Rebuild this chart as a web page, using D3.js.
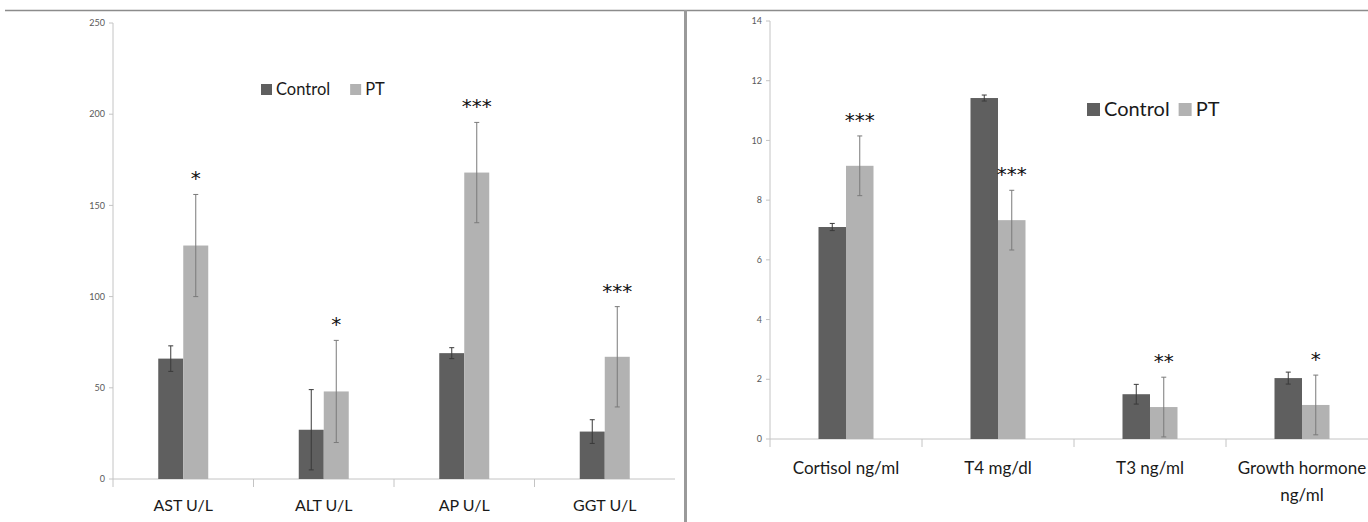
<!DOCTYPE html>
<html>
<head>
<meta charset="utf-8">
<script src="https://cdn.jsdelivr.net/npm/d3@7"></script>
<style>
  body { margin: 0; background: #fff; }
  svg { display: block; font-family: Lato, "Open Sans", sans-serif; }
</style>
</head>
<body>
<div id="chart"></div>
<script>
// left panel: liver enzymes
const liverCats = ["AST U/L", "ALT U/L", "AP U/L", "GGT U/L"];
const liverControl = [66, 27, 69, 26];
const liverControlSd = [7, 22, 3, 6.5];
const liverPT = [128, 48, 168, 67];
const liverPTSd = [28, 28, 27.5, 27.5];
const liverStars = ["*", "*", "***", "***"];
const liverTicks = [0, 50, 100, 150, 200, 250];

// right panel: hormones
const hormoneCats = ["Cortisol ng/ml", "T4 mg/dl", "T3 ng/ml", "Growth hormone ng/ml"];
const hormoneControl = [7.1, 11.42, 1.5, 2.04];
const hormoneControlSd = [0.12, 0.1, 0.33, 0.2];
const hormonePT = [9.15, 7.33, 1.07, 1.14];
const hormonePTSd = [1.0, 1.0, 1.0, 1.0];
const hormoneStars = ["***", "***", "**", "*"];
const hormoneTicks = [0, 2, 4, 6, 8, 10, 12, 14];

const seriesNames = ["Control", "PT"];
const colors = { Control: "#5f5f5f", PT: "#b2b2b2" };
const errColors = { Control: "#3a3a3a", PT: "#7a7a7a" };

const W = 1368, H = 522;
const svg = d3.select("#chart").append("svg")
    .attr("width", W)
    .attr("height", H);

// frame lines
svg.append("line")
    .attr("x1", 5).attr("x2", W).attr("y1", 10.5).attr("y2", 10.5)
    .attr("stroke", "#8c8c8c").attr("stroke-width", 1.5);
svg.append("line")
    .attr("x1", 685.5).attr("x2", 685.5).attr("y1", 10).attr("y2", H)
    .attr("stroke", "#9a9a9a").attr("stroke-width", 3);

function drawPanel(opts) {
    const g = svg.append("g");

    const x = d3.scaleBand()
        .domain(opts.cats)
        .range(opts.xRange);

    const y = d3.scaleLinear()
        .domain([0, d3.max(opts.ticks)])
        .range(opts.yRange);

    const y0 = y(0);

    // y axis
    g.append("line")
        .attr("x1", opts.xRange[0]).attr("x2", opts.xRange[0])
        .attr("y1", y(d3.max(opts.ticks))).attr("y2", y0 + 8)
        .attr("stroke", "#c4c4c4");
    g.selectAll(".ytick")
        .data(opts.ticks)
        .enter()
        .append("line")
        .attr("x1", opts.xRange[0] - 4).attr("x2", opts.xRange[0])
        .attr("y1", d => y(d)).attr("y2", d => y(d))
        .attr("stroke", "#c4c4c4");
    g.selectAll(".ylab")
        .data(opts.ticks)
        .enter()
        .append("text")
        .attr("x", opts.xRange[0] - 8)
        .attr("y", d => y(d))
        .attr("dy", "0.35em")
        .attr("text-anchor", "end")
        .attr("font-size", opts.tickSize)
        .attr("fill", "#595959")
        .text(d => d);

    // x axis
    g.append("line")
        .attr("x1", opts.xRange[0]).attr("x2", opts.xRange[1])
        .attr("y1", y0).attr("y2", y0)
        .attr("stroke", "#c4c4c4");
    g.selectAll(".xtick")
        .data(opts.cats.slice(1))
        .enter()
        .append("line")
        .attr("x1", d => x(d)).attr("x2", d => x(d))
        .attr("y1", y0).attr("y2", y0 + 8)
        .attr("stroke", "#c4c4c4");

    // bars, built from the arrays
    const rows = opts.cats.map((c, i) => ({
        cat: c,
        vals: [
            { s: "Control", v: opts.control[i], sd: opts.controlSd[i] },
            { s: "PT", v: opts.pt[i], sd: opts.ptSd[i] }
        ],
        star: opts.stars[i]
    }));

    const bw = opts.barWidth;
    const barX = (cat, k) => x(cat) + x.bandwidth() / 2 - bw + k * bw;

    rows.forEach(r => {
        r.vals.forEach((d, k) => {
            const bx = barX(r.cat, k);
            g.append("rect")
                .attr("x", bx)
                .attr("y", y(d.v))
                .attr("width", bw)
                .attr("height", y0 - y(d.v))
                .attr("fill", colors[d.s]);

            const cx = bx + bw / 2;
            const eg = g.append("g").attr("stroke", errColors[d.s]).attr("stroke-width", 1);
            eg.append("line")
                .attr("x1", cx).attr("x2", cx)
                .attr("y1", y(d.v + d.sd)).attr("y2", y(Math.max(0, d.v - d.sd)));
            [d.v + d.sd, Math.max(0, d.v - d.sd)].forEach(e => {
                eg.append("line")
                    .attr("x1", cx - 2.5).attr("x2", cx + 2.5)
                    .attr("y1", y(e)).attr("y2", y(e));
            });
        });
        // significance stars above the PT bar
        const pt = r.vals[1];
        g.append("text")
            .attr("x", barX(r.cat, 1) + bw / 2)
            .attr("y", y(pt.v + pt.sd) - 20)
            .attr("dy", "0.55em")
            .attr("text-anchor", "middle")
            .attr("font-family", "'DejaVu Sans', sans-serif")
            .attr("font-size", opts.starSize)
            .attr("fill", "#111")
            .text(r.star);
    });

    // category labels (wrapped when wider than the band)
    rows.forEach(r => {
        const t = g.append("text")
            .attr("x", x(r.cat) + x.bandwidth() / 2)
            .attr("y", opts.labelY)
            .attr("text-anchor", "middle")
            .attr("font-size", opts.labelSize)
            .attr("fill", "#1a1a1a");
        const words = r.cat.split(" ");
        let line = [];
        let tspan = t.append("tspan").attr("x", x(r.cat) + x.bandwidth() / 2);
        words.forEach(w => {
            line.push(w);
            tspan.text(line.join(" "));
            if (tspan.node().getComputedTextLength() > x.bandwidth() - 12 && line.length > 1) {
                line.pop();
                tspan.text(line.join(" "));
                line = [w];
                tspan = t.append("tspan")
                    .attr("x", x(r.cat) + x.bandwidth() / 2)
                    .attr("dy", opts.labelSize * 1.6)
                    .text(w);
            }
        });
    });

    // legend
    const lg = g.append("g").attr("transform", `translate(${opts.legend[0]},${opts.legend[1]})`);
    let lx = 0;
    seriesNames.forEach(s => {
        lg.append("rect")
            .attr("x", lx).attr("y", -opts.legendBox + 1)
            .attr("width", opts.legendBox).attr("height", opts.legendBox)
            .attr("fill", colors[s]);
        const tx = lg.append("text")
            .attr("x", lx + opts.legendBox + 4)
            .attr("y", 1)
            .attr("font-size", opts.legendSize)
            .attr("fill", "#1a1a1a")
            .text(s);
        lx += opts.legendBox + 4 + tx.node().getComputedTextLength() + opts.legendGap;
    });
}

drawPanel({
    cats: liverCats,
    control: liverControl, controlSd: liverControlSd,
    pt: liverPT, ptSd: liverPTSd,
    stars: liverStars, ticks: liverTicks,
    xRange: [113, 675], yRange: [479, 23],
    barWidth: 25,
    tickSize: 9, labelSize: 16, labelY: 511, starSize: 20,
    legend: [261, 94], legendBox: 11, legendSize: 16.5, legendGap: 20
});

drawPanel({
    cats: hormoneCats,
    control: hormoneControl, controlSd: hormoneControlSd,
    pt: hormonePT, ptSd: hormonePTSd,
    stars: hormoneStars, ticks: hormoneTicks,
    xRange: [770, 1378], yRange: [439, 21],
    barWidth: 27.5,
    tickSize: 9, labelSize: 17, labelY: 474, starSize: 20,
    legend: [1087, 115], legendBox: 13, legendSize: 20, legendGap: 9
});
</script>
</body>
</html>
